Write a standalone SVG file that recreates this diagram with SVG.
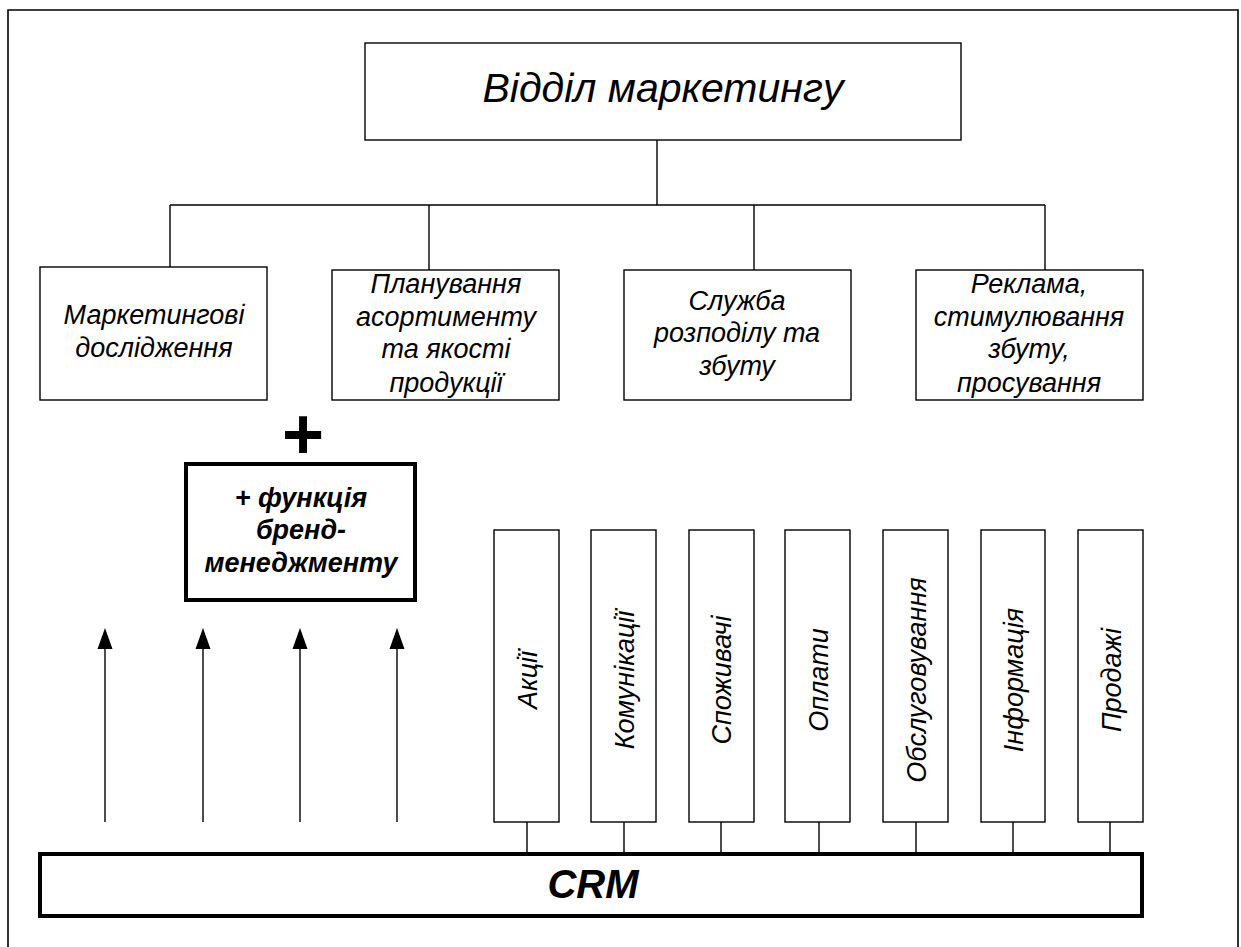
<svg xmlns="http://www.w3.org/2000/svg" width="1241" height="947" viewBox="0 0 1241 947">
<defs>
<style>
.box{fill:#fff;stroke:#000;stroke-width:1.4}
.thick{fill:#fff;stroke:#000;stroke-width:4}
.ln{fill:none;stroke:#000;stroke-width:1.4}
.t{font-family:"Liberation Sans",Arial,sans-serif;font-style:italic;font-size:27px;text-anchor:middle;fill:#000}
.b{font-weight:bold}
</style>
<marker id="ah" markerWidth="15" markerHeight="21" refX="7.5" refY="0" orient="auto-start-reverse" markerUnits="userSpaceOnUse" viewBox="0 0 15 21">
<path d="M0,21 L7.5,0 L15,21 Z" fill="#000"/>
</marker>
</defs>
<rect width="1241" height="947" fill="#fff"/>
<path d="M8,947 V10 H1238 V947" fill="none" stroke="#000" stroke-width="1.6"/>

<g id="connectors">
<path class="ln" d="M657,140 V205 M170,205 H1045 M170,205 V267 M429,205 V270 M754,205 V270 M1045,205 V270"/>
<path class="ln" d="M527,822 V853 M624,822 V853 M721,822 V853 M819,822 V853 M916,822 V853 M1013,822 V853 M1110,822 V853"/>
<g fill="none" stroke="#000" stroke-width="1.4">
<line x1="105" y1="822" x2="105" y2="648"/>
<line x1="203" y1="822" x2="203" y2="648"/>
<line x1="300" y1="822" x2="300" y2="648"/>
<line x1="397" y1="822" x2="397" y2="648"/>
</g>
<g fill="#000">
<path d="M105,628 L97.5,649 H112.5 Z"/>
<path d="M203,628 L195.5,649 H210.5 Z"/>
<path d="M300,628 L292.5,649 H307.5 Z"/>
<path d="M397,628 L389.5,649 H404.5 Z"/>
</g>
</g>

<g id="top">
<rect class="box" x="365" y="43" width="596" height="97"/>
<text class="t" x="663" y="102" style="font-size:41px">Відділ маркетингу</text>
</g>

<g id="n1">
<rect class="box" x="40" y="267" width="227" height="133"/>
<text class="t" x="154" y="324">Маркетингові</text>
<text class="t" x="154" y="357">дослідження</text>
</g>
<g id="n2">
<rect class="box" x="332" y="270" width="227" height="130"/>
<text class="t" x="446" y="293">Планування</text>
<text class="t" x="446" y="326">асортименту</text>
<text class="t" x="446" y="358">та якості</text>
<text class="t" x="446" y="392">продукції</text>
</g>
<g id="n3">
<rect class="box" x="624" y="270" width="227" height="130"/>
<text class="t" x="737" y="310">Служба</text>
<text class="t" x="737" y="342">розподілу та</text>
<text class="t" x="737" y="375">збуту</text>
</g>
<g id="n4">
<rect class="box" x="916" y="270" width="227" height="130"/>
<text class="t" x="1029" y="293">Реклама,</text>
<text class="t" x="1029" y="326">стимулювання</text>
<text class="t" x="1029" y="358">збуту,</text>
<text class="t" x="1029" y="392">просування</text>
</g>

<g id="plus">
<text x="303" y="459" style="font-family:'Liberation Sans',Arial,sans-serif;font-weight:bold;font-size:72px;text-anchor:middle">+</text>
</g>

<g id="brand">
<rect class="thick" x="186" y="464" width="229" height="136"/>
<text class="t b" x="301" y="507">+ функція</text>
<text class="t b" x="301" y="539">бренд-</text>
<text class="t b" x="301" y="572">менеджменту</text>
</g>

<g id="v1"><rect class="box" x="494" y="530" width="65" height="292"/><text class="t" transform="translate(537,680) rotate(-90)">Акції</text></g>
<g id="v2"><rect class="box" x="591" y="530" width="65" height="292"/><text class="t" transform="translate(634,680) rotate(-90)">Комунікації</text></g>
<g id="v3"><rect class="box" x="689" y="530" width="65" height="292"/><text class="t" transform="translate(731,680) rotate(-90)">Споживачі</text></g>
<g id="v4"><rect class="box" x="785" y="530" width="65" height="292"/><text class="t" transform="translate(828,680) rotate(-90)">Оплати</text></g>
<g id="v5"><rect class="box" x="883" y="530" width="65" height="292"/><text class="t" transform="translate(926,680) rotate(-90)">Обслуговування</text></g>
<g id="v6"><rect class="box" x="981" y="530" width="64" height="292"/><text class="t" transform="translate(1023,680) rotate(-90)">Інформація</text></g>
<g id="v7"><rect class="box" x="1078" y="530" width="65" height="292"/><text class="t" transform="translate(1121,680) rotate(-90)">Продажі</text></g>

<g id="crm">
<rect class="thick" x="40" y="854" width="1102" height="62"/>
<text class="t b" x="593" y="898" style="font-size:40px">CRM</text>
</g>
</svg>
